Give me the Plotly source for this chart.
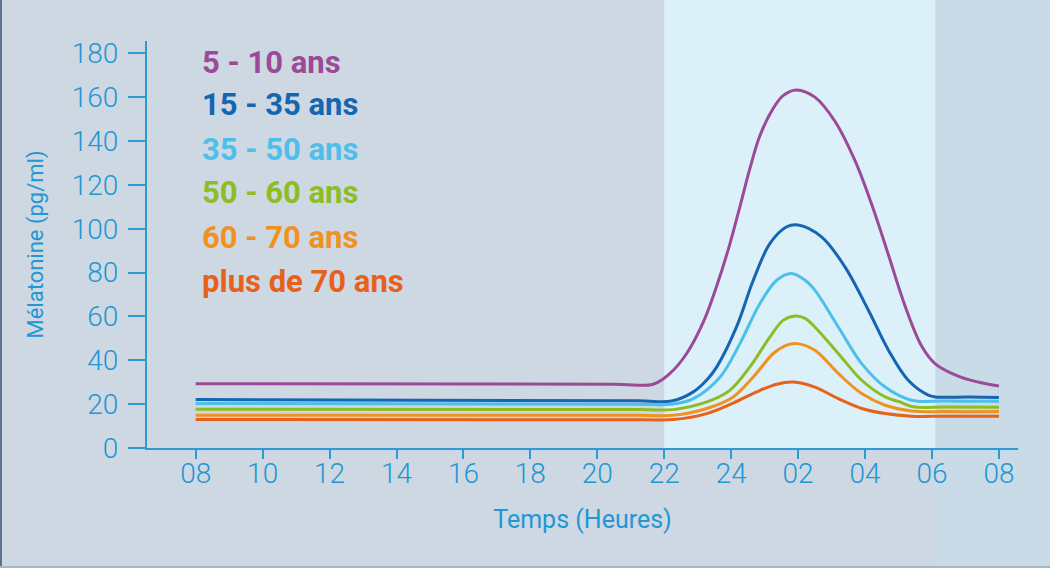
import plotly.graph_objects as go

# ---------------- data ----------------
tick_hours = [8, 10, 12, 14, 16, 18, 20, 22, 24, 26, 28, 30, 32]
tick_labels = ["08", "10", "12", "14", "16", "18", "20", "22", "24", "02", "04", "06", "08"]
y_ticks = [0, 20, 40, 60, 80, 100, 120, 140, 160, 180]

series_names = ["5 - 10 ans", "15 - 35 ans", "35 - 50 ans", "50 - 60 ans", "60 - 70 ans", "plus de 70 ans"]
series_colors = ["#9a4a97", "#1466b0", "#4dbfeb", "#8cbd25", "#f1911f", "#e8611b"]

h_5_10 = [8, 20.5, 21.67, 22.17, 22.67, 23.17, 23.57, 23.96, 24.26, 24.56, 24.86, 25.26, 25.56, 25.95,
          26.5, 27.1, 27.7, 28.2, 28.7, 29.19, 29.69, 30.09, 30.84, 31.4, 32]
v_5_10 = [29.3, 29.1, 29.1, 34.0, 43.1, 57.5, 74.0, 93.0, 110.0, 127.5, 142.5, 155.0, 160.8, 163.3,
          160.0, 149.0, 131.0, 111.0, 88.0, 65.0, 46.5, 38.5, 32.4, 30.0, 28.3]

h_15_35 = [8, 21.2, 22.22, 22.87, 23.27, 23.57, 24.16, 24.66, 25.16, 25.66, 26.0,
           26.7, 27.4, 28.1, 28.7, 29.29, 29.89, 30.09, 31.1, 32]
v_15_35 = [22.1, 21.5, 21.4, 25.6, 31.0, 37.0, 55.2, 76.5, 93.3, 100.9, 101.7,
           96.3, 82.6, 62.8, 44.6, 30.9, 24.1, 23.3, 23.2, 23.0]

h_35_50 = [8, 21.2, 22.22, 22.87, 23.67, 24.26, 24.86, 25.36, 25.8, 26.21,
           26.5, 27.2, 27.9, 28.6, 29.39, 30.4, 32]
v_35_50 = [20.3, 20.0, 19.9, 22.5, 32.4, 47.6, 65.9, 76.5, 79.6, 76.5,
           72.0, 55.2, 38.5, 27.8, 21.8, 21.4, 21.3]

h_50_60 = [8, 21.3, 22.27, 23.27, 23.96, 24.56, 25.16, 25.56, 25.91, 26.21,
           26.5, 27.2, 27.9, 28.6, 29.04, 29.44, 30.4, 32]
v_50_60 = [17.7, 17.5, 17.5, 21.0, 26.3, 37.0, 50.7, 58.3, 60.2, 59.1,
           55.2, 43.1, 30.9, 23.3, 21.0, 18.8, 18.7, 18.6]

h_60_70 = [8, 21.3, 22.27, 23.27, 24.06, 24.66, 25.26, 25.66, 25.96,
           26.5, 27.2, 27.9, 28.6, 29.39, 30.4, 32]
v_60_70 = [14.9, 14.9, 14.9, 18.0, 23.3, 32.4, 43.1, 46.9, 47.6,
           44.6, 34.0, 24.8, 19.5, 16.9, 16.6, 16.6]

h_70p = [8, 21.3, 22.27, 23.27, 24.06, 24.76, 25.36, 25.86,
         26.5, 27.2, 27.9, 28.6, 29.39, 30.4, 32]
v_70p = [13.0, 12.9, 13.0, 15.7, 20.5, 25.6, 29.1, 30.1,
         27.8, 22.5, 18.0, 15.7, 14.5, 14.5, 14.5]

night_start, night_end = 22.0, 30.1

# ---------------- layout geometry ----------------
W, H = 1050, 568
ML, MR, MT, MB = 147, 32, 41, 120
PW, PH = W - ML - MR, H - MT - MB
x_range = [6.545, 32.57]
y_range = [0, 185.6]

def px_x(px):
    return (px - ML) / PW

def px_y(py):
    return (H - MB - py) / PH

def hour_to_paper(h):
    return (h - x_range[0]) / (x_range[1] - x_range[0])

AX = "#2b9ad6"
TXT = "#2396d4"

fig = go.Figure()
all_h = [h_5_10, h_15_35, h_35_50, h_50_60, h_60_70, h_70p]
all_v = [v_5_10, v_15_35, v_35_50, v_50_60, v_60_70, v_70p]
for name, col, hs, vs in zip(series_names, series_colors, all_h, all_v):
    fig.add_trace(go.Scatter(x=hs, y=vs, mode="lines", name=name,
                             line=dict(color=col, width=3, shape="spline", smoothing=1.0),
                             hoverinfo="skip"))

shapes = [
    dict(type="rect", xref="paper", yref="paper", layer="below",
         x0=hour_to_paper(night_end), x1=px_x(W), y0=px_y(H), y1=px_y(0),
         fillcolor="#c9dbe7", line=dict(width=0)),
    dict(type="rect", xref="paper", yref="paper", layer="below",
         x0=hour_to_paper(night_start), x1=hour_to_paper(night_end), y0=0, y1=px_y(0),
         fillcolor="#dcf0fa", line=dict(width=0)),
    dict(type="rect", xref="paper", yref="paper", layer="above",
         x0=px_x(0), x1=px_x(2), y0=px_y(H), y1=px_y(0),
         fillcolor="#5d7190", line=dict(width=0)),
    dict(type="rect", xref="paper", yref="paper", layer="above",
         x0=px_x(0), x1=px_x(W), y0=px_y(H), y1=px_y(H - 2),
         fillcolor="#a7b6c7", line=dict(width=0)),
]

legend_y = [62, 105, 149, 192, 237, 281]
annotations = []
for name, col, yy in zip(series_names, series_colors, legend_y):
    annotations.append(dict(text=name, xref="paper", yref="paper", x=px_x(200), y=px_y(yy),
                            xanchor="left", yanchor="middle", showarrow=False,
                            font=dict(family="Roboto", size=31, color=col, weight="bold")))

fig.update_layout(
    width=W, height=H,
    margin=dict(l=ML, r=MR, t=MT, b=MB, pad=0),
    paper_bgcolor="#cdd8e2",
    plot_bgcolor="rgba(0,0,0,0)",
    showlegend=False,
    shapes=shapes,
    annotations=annotations,
    xaxis=dict(range=x_range, tickvals=tick_hours, ticktext=tick_labels,
               showgrid=False, zeroline=False, showline=True, linecolor=AX, linewidth=2,
               ticks="outside", ticklen=9, tickwidth=1.5, tickcolor=AX,
               tickfont=dict(family="Roboto", size=28, color=TXT, weight=300),
               ticklabelstandoff=-10,
               title=dict(text="Temps (Heures)", standoff=22,
                          font=dict(family="Roboto", size=25, color=TXT))),
    yaxis=dict(range=y_range, tickvals=y_ticks,
               showgrid=False, zeroline=False, showline=True, linecolor=AX, linewidth=2,
               ticks="outside", ticklen=17, tickwidth=1.5, tickcolor=AX,
               tickfont=dict(family="Roboto", size=28, color=TXT, weight=300),
               ticklabelstandoff=4,
               title=dict(text="Mélatonine (pg/ml)", standoff=22,
                          font=dict(family="Roboto", size=22, color=TXT))),
)

fig.write_html("out.html")
